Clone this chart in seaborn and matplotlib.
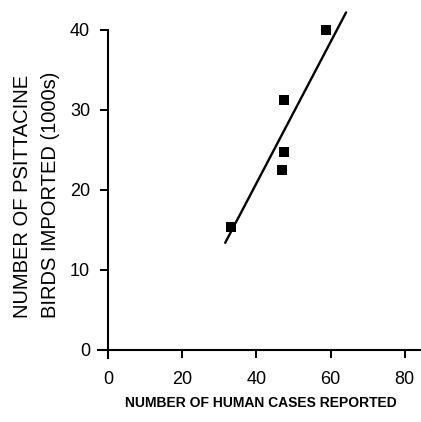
import numpy as np
import pandas as pd
import matplotlib
matplotlib.use("Agg")
import matplotlib.pyplot as plt
import seaborn as sns

# human cases reported vs psittacine birds imported (1000s)
human_cases = [33.2, 46.8, 47.5, 47.5, 58.9]
birds_imported = [15.4, 22.5, 24.7, 31.3, 40.0]

# fitted line endpoints as drawn
line_x = [31.6, 64.2]
line_y = [13.4, 42.2]

x_ticks = [0, 20, 40, 60, 80]
y_ticks = [0, 10, 20, 30, 40]

sns.set_style("ticks")
plt.rcParams['font.family'] = ['Liberation Sans', 'DejaVu Sans']
plt.rcParams['text.color'] = 'black'
plt.rcParams['xtick.color'] = 'black'
plt.rcParams['ytick.color'] = 'black'
plt.rcParams['axes.labelcolor'] = 'black'

df = pd.DataFrame({"cases": human_cases, "birds": birds_imported})
fit = pd.DataFrame({"cases": line_x, "birds": line_y})

fig = plt.figure(figsize=(4.21, 4.22), dpi=100)
W, H = 421, 422
# x=0 sits at px 108, y=0 at px 350 (3.71 px per case, 8 px per 1000 birds)
x0, x1 = 0, 84.4
y0, y1 = 0, 43.75
ax = fig.add_axes([108 / W, 1 - 350 / H, (421 - 108) / W, 350 / H])

sns.lineplot(data=fit, x="cases", y="birds", color="black", linewidth=1.7, ax=ax)
sns.scatterplot(data=df, x="cases", y="birds", marker="s", s=42,
                color="black", edgecolor="black", linewidth=0, ax=ax, zorder=3)

ax.set_xlim(x0, x1)
ax.set_ylim(y0, y1)
ax.set_xticks(x_ticks)
ax.set_yticks(y_ticks)
ax.tick_params(axis="both", labelsize=13, width=1.4, length=5.8, color="black")
ax.tick_params(axis="x", pad=9.5)
ax.tick_params(axis="y", pad=7)

sns.despine(ax=ax)
ax.spines["left"].set_bounds(-1, 40)
ax.spines["bottom"].set_bounds(-2.7, x1)
for s in ["left", "bottom"]:
    ax.spines[s].set_linewidth(1.5)
    ax.spines[s].set_color("black")

ax.set_ylabel("NUMBER OF PSITTACINE\nBIRDS IMPORTED (1000s)", fontsize=14.5,
              multialignment="left", linespacing=1.6)
ax.yaxis.set_label_coords(-0.153, 0.443)
ax.set_xlabel("NUMBER OF HUMAN CASES REPORTED", fontsize=10, fontweight="bold")
ax.xaxis.set_label_coords(0.49, -0.131)

fig.savefig("out.png", dpi=100)
